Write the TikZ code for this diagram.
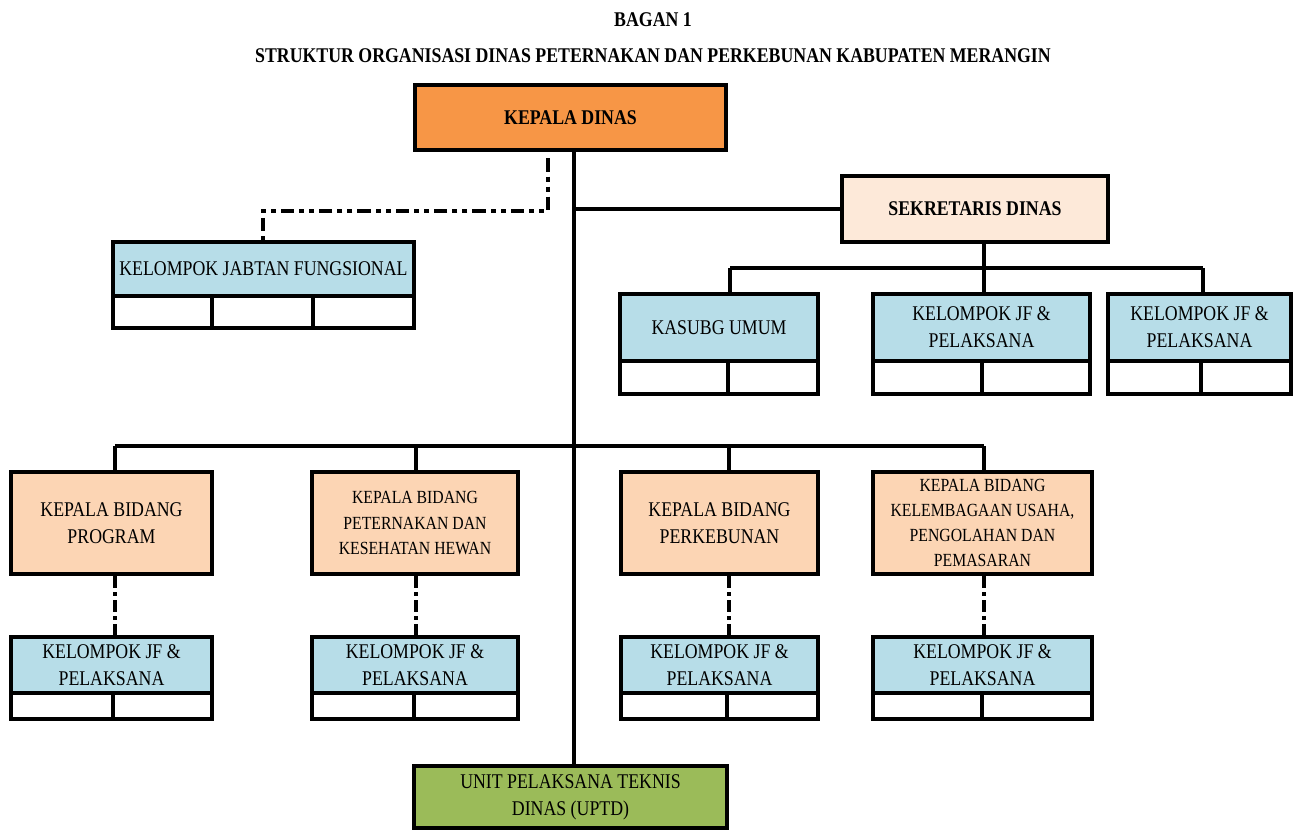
\documentclass[tikz,border=0pt]{standalone}
\usepackage{fontspec}
\setmainfont{Liberation Serif}[FakeStretch=0.85]
\definecolor{kdorange}{HTML}{F79646}
\definecolor{sekpeach}{HTML}{FDE9D9}
\definecolor{kbpeach}{HTML}{FCD5B4}
\definecolor{jfblue}{HTML}{B7DDE8}
\definecolor{uptdgreen}{HTML}{9BBB59}
\begin{document}
\begin{tikzpicture}[x=0.75pt,y=-0.75pt,
  box/.style={draw=black, line width=3.6pt, inner sep=0pt, align=center,
    font=\fontsize{15.7}{20.3}\selectfont},
  smalltext/.style={font=\fontsize{13.9}{18.8}\selectfont},
  sz/.style 2 args={minimum width={#1*0.75pt}, minimum height={#2*0.75pt}},
  cell/.style={draw=black, line width=3.6pt, fill=white, inner sep=0pt},
  conn/.style={line width=3pt},
  dashdotdot/.style={line width=3pt, dash pattern=on 10pt off 3.75pt on 3.75pt off 3.75pt on 3.75pt off 3.75pt},
  dashdotline/.style={line width=3pt, dash pattern=on 9pt off 3pt on 3pt off 3pt},
  titletext/.style={font=\fontsize{15.7}{18}\selectfont\bfseries}
]
\useasboundingbox (0,0) rectangle (1298,831);

% titles
\node[titletext] (t1) at (653,20) {BAGAN 1};
\node[titletext] (t2) at (653,56) {STRUKTUR ORGANISASI DINAS PETERNAKAN DAN PERKEBUNAN KABUPATEN MERANGIN};

% coordinates for connector columns
\coordinate (trunk) at (574,0);
\coordinate (fx) at (548,0);
\coordinate (sekbus) at (0,268);
\coordinate (rowbus) at (0,446);
\coordinate (dashy) at (0,211);

% head
\node[box, fill=kdorange, sz={311}{65}, font=\fontsize{15.7}{20}\selectfont\bfseries] (kd) at (570.5,117.5) {KEPALA DINAS};
\node[box, fill=uptdgreen, sz={313}{62}] (uptd) at (570.5,797) {UNIT PELAKSANA TEKNIS\\DINAS (UPTD)};
\node[box, fill=sekpeach, sz={266}{66}, font=\fontsize{15.7}{20}\selectfont\bfseries] (sek) at (975,209) {SEKRETARIS DINAS};

% kelompok jabatan fungsional
\node[box, fill=jfblue, sz={301}{54}] (kjf) at (263.5,269) {KELOMPOK JABTAN FUNGSIONAL};
\node[cell, sz={99}{32}] (kjfa) at (162.5,312) {};
\node[cell, sz={101}{32}] (kjfb) at (262.5,312) {};
\node[cell, sz={101}{32}] (kjfc) at (363.5,312) {};

% row under sekretaris
\node[box, fill=jfblue, sz={198}{67}] (ku) at (719,327.5) {KASUBG UMUM};
\node[cell, sz={108}{33}] (kua) at (674,377.5) {};
\node[cell, sz={90}{33}] (kub) at (773,377.5) {};
\node[box, fill=jfblue, sz={217}{67}] (jfa) at (981.5,327.5) {KELOMPOK JF \&\\PELAKSANA};
\node[cell, sz={109}{33}] (jfaa) at (927.5,377.5) {};
\node[cell, sz={108}{33}] (jfab) at (1036,377.5) {};
\node[box, fill=jfblue, sz={183}{67}] (jfb) at (1199.5,327.5) {KELOMPOK JF \&\\PELAKSANA};
\node[cell, sz={93}{33}] (jfba) at (1154.5,377.5) {};
\node[cell, sz={90}{33}] (jfbb) at (1246,377.5) {};

% bidang row
\node[box, fill=kbpeach, sz={201}{102}] (kb1) at (111.5,523) {KEPALA BIDANG\\PROGRAM};
\node[box, fill=kbpeach, sz={206}{102}, smalltext] (kb2) at (415,523) {KEPALA BIDANG\\PETERNAKAN DAN\\KESEHATAN HEWAN};
\node[box, fill=kbpeach, sz={197}{102}] (kb3) at (719.5,523) {KEPALA BIDANG\\PERKEBUNAN};
\node[box, fill=kbpeach, sz={219}{102}, smalltext] (kb4) at (982.5,523) {KEPALA BIDANG\\KELEMBAGAAN USAHA,\\PENGOLAHAN DAN\\PEMASARAN};

% kelompok jf under bidang
\node[box, fill=jfblue, sz={201}{56}] (jb1) at (111.5,665) {KELOMPOK JF \&\\PELAKSANA};
\node[cell, sz={102}{26}] (jb1a) at (62,706) {};
\node[cell, sz={99}{26}] (jb1b) at (162.5,706) {};
\node[box, fill=jfblue, sz={206}{56}] (jb2) at (415,665) {KELOMPOK JF \&\\PELAKSANA};
\node[cell, sz={102}{26}] (jb2a) at (363,706) {};
\node[cell, sz={104}{26}] (jb2b) at (466,706) {};
\node[box, fill=jfblue, sz={197}{56}] (jb3) at (719.5,665) {KELOMPOK JF \&\\PELAKSANA};
\node[cell, sz={106}{26}] (jb3a) at (674,706) {};
\node[cell, sz={91}{26}] (jb3b) at (772.5,706) {};
\node[box, fill=jfblue, sz={219}{56}] (jb4) at (982.5,665) {KELOMPOK JF \&\\PELAKSANA};
\node[cell, sz={109}{26}] (jb4a) at (927.5,706) {};
\node[cell, sz={110}{26}] (jb4b) at (1037,706) {};

% ---- connectors ----
\draw[conn] (kd.south -| trunk) -- (uptd.north -| trunk);
\draw[conn] (sek.west) -- (sek.west -| trunk);
\draw[conn] (sek.south -| jfaa.east) -- (sekbus -| jfaa.east);
\draw[conn] (sekbus -| kua.east) -- (sekbus -| jfba.east);
\draw[conn] (sekbus -| kua.east) -- (ku.north -| kua.east);
\draw[conn] (sekbus -| jfba.east) -- (jfb.north -| jfba.east);
\draw[conn] (sekbus -| jfaa.east) -- (jfa.north -| jfaa.east);
\draw[conn] (rowbus -| jb1a.east) -- (rowbus -| jb4a.east);
\draw[conn] (rowbus -| jb1a.east) -- (kb1.north -| jb1a.east);
\draw[conn] (rowbus -| jb2a.east) -- (kb2.north -| jb2a.east);
\draw[conn] (rowbus -| jb3a.east) -- (kb3.north -| jb3a.east);
\draw[conn] (rowbus -| jb4a.east) -- (kb4.north -| jb4a.east);
\draw[dashdotline] (kb1.south -| jb1a.east) -- (jb1.north -| jb1a.east);
\draw[dashdotline] (kb2.south -| jb2a.east) -- (jb2.north -| jb2a.east);
\draw[dashdotline] (kb3.south -| jb3a.east) -- (jb3.north -| jb3a.east);
\draw[dashdotline] (kb4.south -| jb4a.east) -- (jb4.north -| jb4a.east);
\draw[dashdotdot] ([yshift=-4.5pt]kd.south -| fx) -- (dashy -| fx) -- (dashy -| kjfb.center) -- (kjf.north -| kjfb.center);
\end{tikzpicture}
\end{document}
